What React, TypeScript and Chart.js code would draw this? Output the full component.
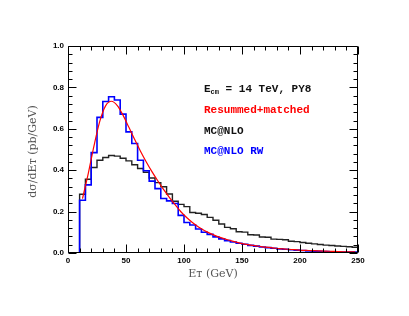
import React, { useEffect, useRef } from "react";
import { Chart, registerables } from "chart.js";
Chart.register(...registerables);

// Histogram bins: 5 GeV wide, starting at 10 GeV
const BIN_START = 10;
const BIN_WIDTH = 5;

const mcnlo = [
  0.284, 0.356, 0.413, 0.448, 0.461, 0.471, 0.468, 0.458, 0.445, 0.426,
  0.408, 0.390, 0.362, 0.340, 0.320, 0.285, 0.250, 0.235, 0.224, 0.196,
  0.192, 0.186, 0.172, 0.158, 0.140, 0.124, 0.117, 0.103, 0.101, 0.088,
  0.087, 0.077, 0.076, 0.067, 0.066, 0.064, 0.057, 0.055, 0.051, 0.047,
  0.044, 0.041, 0.038, 0.036, 0.034, 0.032, 0.030, 0.028,
];

const mcnloRW = [
  0.255, 0.329, 0.485, 0.655, 0.732, 0.755, 0.739, 0.671, 0.585, 0.529,
  0.448, 0.397, 0.347, 0.311, 0.263, 0.252, 0.239, 0.182, 0.147, 0.135,
  0.116, 0.100, 0.090, 0.078, 0.068, 0.060, 0.053, 0.047, 0.042, 0.037,
  0.033, 0.029, 0.026, 0.023, 0.020, 0.018, 0.016, 0.014, 0.012, 0.010,
  0.009, 0.008, 0.007, 0.006, 0.005, 0.005, 0.004, 0.004,
];

const resumX = [
  12.5, 17.5, 22.5, 27.5, 32.5, 37.5, 42.5, 47.5, 52.5, 57.5,
  62.5, 67.5, 72.5, 77.5, 82.5, 87.5, 92.5, 97.5, 102.5, 107.5,
  112.5, 117.5, 122.5, 127.5, 132.5, 137.5, 142.5, 147.5, 152.5, 157.5,
  162.5, 167.5, 172.5, 177.5, 182.5, 187.5, 192.5, 197.5, 202.5, 207.5,
  212.5, 217.5, 222.5, 227.5, 232.5, 237.5, 242.5, 247.5,
];
const resumY = [
  0.263, 0.385, 0.520, 0.638, 0.712, 0.733, 0.712, 0.665, 0.607, 0.548,
  0.492, 0.440, 0.392, 0.348, 0.306, 0.268, 0.232, 0.198, 0.170, 0.146,
  0.126, 0.109, 0.095, 0.083, 0.073, 0.064, 0.056, 0.049, 0.043, 0.038,
  0.034, 0.030, 0.027, 0.024, 0.021, 0.019, 0.017, 0.015, 0.013, 0.012,
  0.011, 0.010, 0.009, 0.008, 0.007, 0.006, 0.006, 0.005,
];

const xTicks = [0, 50, 100, 150, 200, 250];
const xTickLabels = ["0", "50", "100", "150", "200", "250"];
const yTicks = [0, 0.2, 0.4, 0.6, 0.8, 1.0];
const yTickLabels = ["0.0", "0.2", "0.4", "0.6", "0.8", "1.0"];

function stepData(values: number[]) {
  const pts = [{ x: 0, y: 0 }];
  values.forEach((v, i) => pts.push({ x: BIN_START + i * BIN_WIDTH, y: v }));
  pts.push({ x: BIN_START + values.length * BIN_WIDTH, y: values[values.length - 1] });
  return pts;
}

const framePlugin = {
  id: "frame",
  afterDatasetsDraw(chart: any) {
    const { ctx, chartArea: a, scales } = chart;
    const x = scales.x;
    const y = scales.y;
    ctx.save();
    ctx.strokeStyle = "#000";
    ctx.lineWidth = 1;
    const L = a.left + 0.5, R = a.right - 0.5, T = a.top + 0.5, B = a.bottom - 0.5;
    ctx.beginPath();
    ctx.rect(L, T, R - L, B - T);
    ctx.stroke();
    ctx.beginPath();
    for (let v = 0; v <= 250; v += 10) {
      const px = Math.round(x.getPixelForValue(v)) + 0.5;
      const len = v % 50 === 0 ? 8 : 4;
      ctx.moveTo(px, B); ctx.lineTo(px, B - len);
      ctx.moveTo(px, T); ctx.lineTo(px, T + len);
    }
    for (let i = 0; i <= 25; i++) {
      const v = i * 0.04;
      const py = Math.round(y.getPixelForValue(v)) + 0.5;
      const len = i % 5 === 0 ? 8 : 4;
      ctx.moveTo(L, py); ctx.lineTo(L + len, py);
      ctx.moveTo(R, py); ctx.lineTo(R - len, py);
    }
    ctx.stroke();

    // tick labels
    ctx.fillStyle = "#000";
    ctx.font = "bold 8px 'Liberation Sans', Arial, sans-serif";
    ctx.textBaseline = "middle";
    ctx.textAlign = "center";
    xTicks.forEach((v, i) => {
      ctx.fillText(xTickLabels[i], x.getPixelForValue(v), a.bottom + 8);
    });
    ctx.textAlign = "right";
    yTicks.forEach((v, i) => {
      ctx.fillText(yTickLabels[i], a.left - 4, y.getPixelForValue(v));
    });

    // axis titles
    ctx.fillStyle = "#555";
    ctx.font = "11px 'DejaVu Serif', serif";
    ctx.textAlign = "center";
    ctx.fillText("E\u1D1B (GeV)", (a.left + a.right) / 2, a.bottom + 21);
    ctx.save();
    ctx.translate(33, (a.top + a.bottom) / 2 + 2);
    ctx.rotate(-Math.PI / 2);
    ctx.fillText("d\u03C3/dE\u1D1B (pb/GeV)", 0, 0);
    ctx.restore();

    // legend text
    const lx = 204;
    const big = "bold 11px 'Liberation Mono', 'Courier New', monospace";
    const small = "bold 7px 'Liberation Mono', 'Courier New', monospace";
    ctx.textAlign = "left";
    ctx.textBaseline = "alphabetic";
    ctx.fillStyle = "#111";
    ctx.font = big;
    ctx.fillText("E", lx, 92);
    let w = ctx.measureText("E").width;
    ctx.font = small;
    ctx.fillText("cm", lx + w, 94);
    w += ctx.measureText("cm").width;
    ctx.font = big;
    ctx.fillText(" = 14 TeV, PY8", lx + w, 92);
    ctx.fillStyle = "#ff0000";
    ctx.fillText("Resummed+matched", lx, 113);
    ctx.fillStyle = "#111";
    ctx.fillText("MC@NLO", lx, 134);
    ctx.fillStyle = "#0000ff";
    ctx.fillText("MC@NLO RW", lx, 154);
    ctx.restore();
  },
};

export default function App() {
  const ref = useRef<HTMLCanvasElement>(null);
  useEffect(() => {
    document.body.style.margin = "0";
    const canvas = ref.current!;
    const chart = new Chart(canvas, {
      type: "line",
      data: {
        datasets: [
          {
            label: "Resummed+matched",
            data: resumX.map((xv, i) => ({ x: xv, y: resumY[i] })),
            borderColor: "#ff0000",
            borderWidth: 1.2,
            pointRadius: 0,
            tension: 0.4,
            cubicInterpolationMode: "monotone",
            fill: false,
            order: 0,
          },
          {
            label: "MC@NLO RW",
            data: stepData(mcnloRW),
            borderColor: "#0000ff",
            borderWidth: 1.6,
            pointRadius: 0,
            stepped: "before",
            fill: false,
            order: 1,
          },
          {
            label: "MC@NLO",
            data: stepData(mcnlo),
            borderColor: "#222222",
            borderWidth: 1.4,
            pointRadius: 0,
            stepped: "before",
            fill: false,
            order: 2,
          },
        ],
      },
      options: {
        responsive: false,
        animation: false,
        devicePixelRatio: 1,
        layout: { padding: { left: 68, right: 51, top: 46, bottom: 63 } },
        plugins: { legend: { display: false }, tooltip: { enabled: false } },
        scales: {
          x: { type: "linear", min: 0, max: 250, display: false },
          y: { type: "linear", min: 0, max: 1, display: false },
        },
      },
      plugins: [framePlugin],
    } as any);
    return () => chart.destroy();
  }, []);
  return <canvas ref={ref} width={409} height={316} style={{ display: "block" }} />;
}
